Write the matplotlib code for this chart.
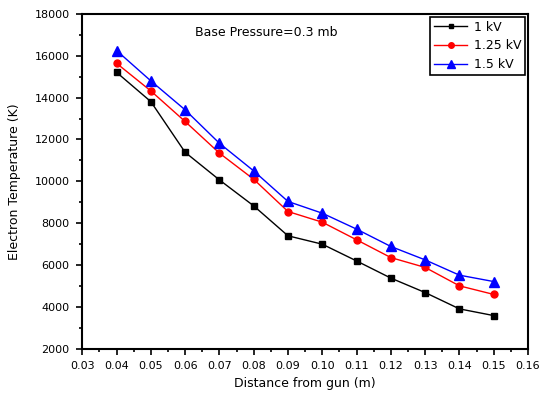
import matplotlib.pyplot as plt
from matplotlib.ticker import MultipleLocator

plt.rcParams['font.family'] = ['DejaVu Sans']

distance = [0.04, 0.05, 0.06, 0.07, 0.08, 0.09, 0.10, 0.11, 0.12, 0.13, 0.14, 0.15]
temp_1kV = [15210, 13810, 11390, 10070, 8830, 7400, 7000, 6200, 5380, 4690, 3910, 3590]
temp_125kV = [15640, 14320, 12860, 11350, 10100, 8560, 8050, 7210, 6360, 5890, 5010, 4600]
temp_15kV = [16250, 14800, 13415, 11820, 10500, 9040, 8480, 7720, 6890, 6250, 5520, 5215]

x_ticks = [0.03, 0.04, 0.05, 0.06, 0.07, 0.08, 0.09, 0.10, 0.11, 0.12, 0.13, 0.14, 0.15, 0.16]
x_labels = ['0.03', '0.04', '0.05', '0.06', '0.07', '0.08', '0.09', '0.10', '0.11', '0.12', '0.13', '0.14', '0.15', '0.16']
y_ticks = [2000, 4000, 6000, 8000, 10000, 12000, 14000, 16000, 18000]

fig = plt.figure(figsize=(5.41, 3.96), dpi=100)
ax = fig.add_axes([0.152, 0.119, 0.824, 0.846])

ax.plot(distance, temp_1kV, 'k-s', lw=1, ms=4, label='1 kV')
ax.plot(distance, temp_125kV, 'r-o', lw=1, ms=5, label='1.25 kV')
ax.plot(distance, temp_15kV, 'b-^', lw=1, ms=7, label='1.5 kV')

ax.set_xlim(0.03, 0.16)
ax.set_ylim(2000, 18000)
ax.set_xticks(x_ticks)
ax.set_xticklabels(x_labels)
ax.set_yticks(y_ticks)
ax.xaxis.set_minor_locator(MultipleLocator(0.005))
ax.yaxis.set_minor_locator(MultipleLocator(1000))
ax.tick_params(which='both', direction='out', top=False, right=False, labelsize=8, width=1.2)
ax.tick_params(which='major', length=4, pad=5)
ax.tick_params(which='minor', length=2.5)
for s in ax.spines.values():
    s.set_linewidth(1.5)

ax.set_xlabel('Distance from gun (m)', fontsize=9, labelpad=4)
ax.set_ylabel('Electron Temperature (K)', fontsize=9, labelpad=10)
ax.text(0.0628, 17100, 'Base Pressure=0.3 mb', fontsize=9, va='center')

leg = ax.legend(loc='upper right', fontsize=9, fancybox=False, edgecolor='black',
                framealpha=1, borderaxespad=0.25, borderpad=0.3, handlelength=2.7,
                handletextpad=0.5, labelspacing=0.45, markerscale=0.8)
leg.get_frame().set_linewidth(1.2)

fig.savefig('out.png', dpi=100)
